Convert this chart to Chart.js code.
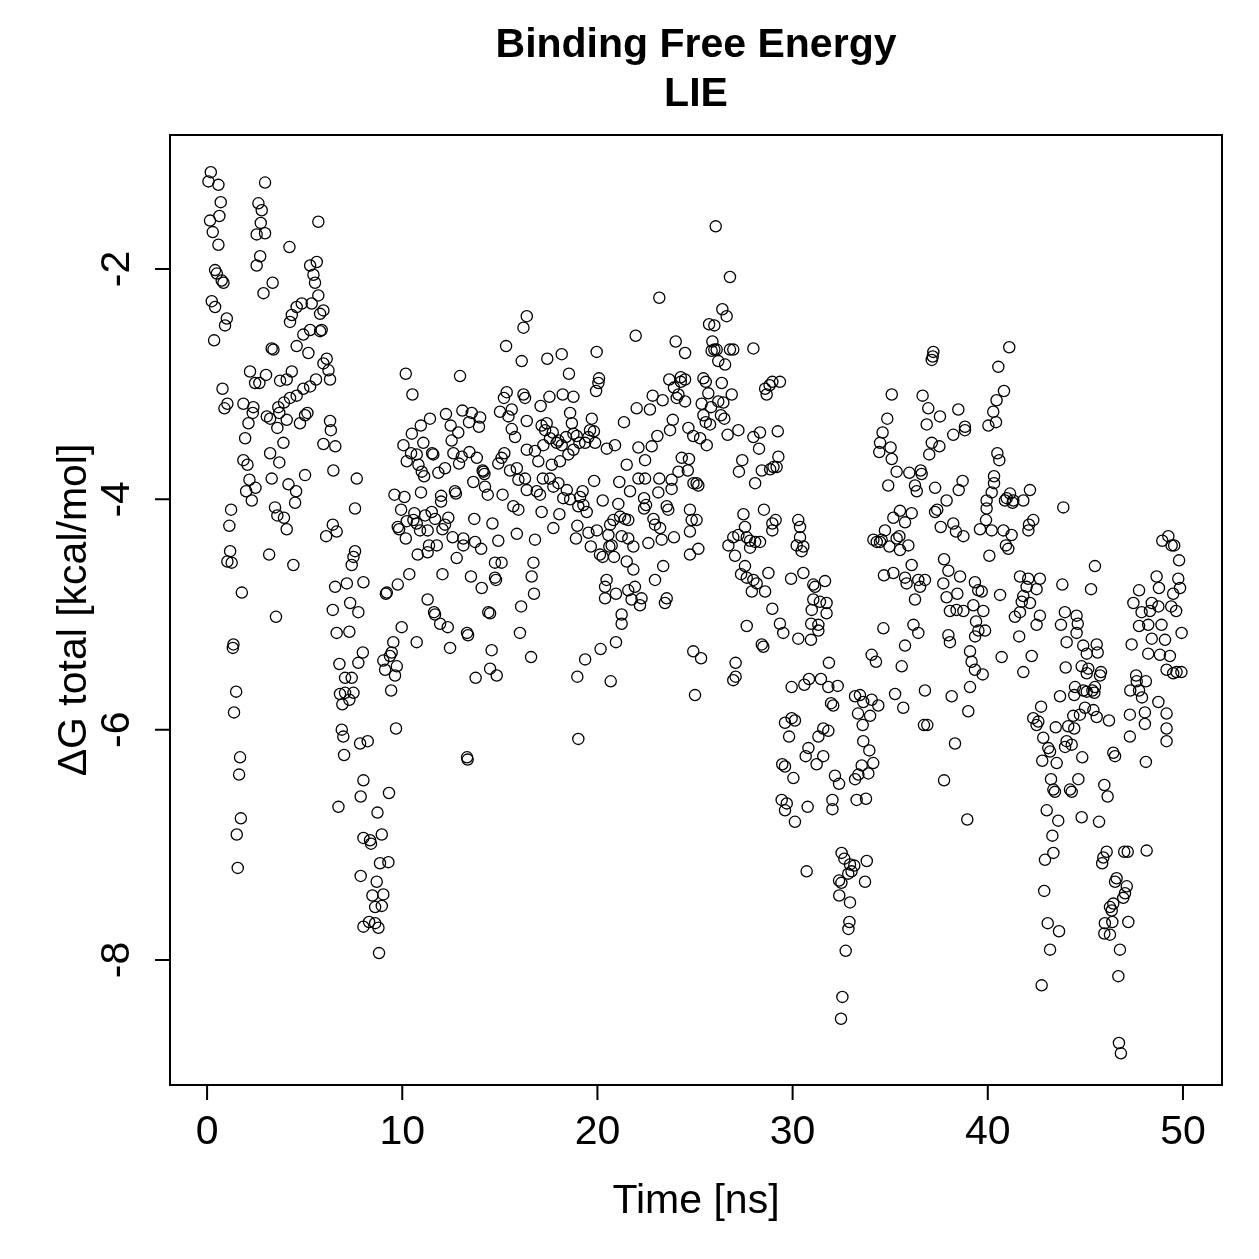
<!DOCTYPE html>
<html>
<head>
<meta charset="utf-8">
<script src="https://cdn.jsdelivr.net/npm/chart.js@4.4.1/dist/chart.umd.min.js"></script>
<style>
  html, body { margin: 0; padding: 0; background: #fff; }
  #wrap { width: 1259px; height: 1259px; }
</style>
</head>
<body>
<div id="wrap"><canvas id="lieChart" width="1259" height="1259"></canvas></div>
<script>
const chartTitle = ["Binding Free Energy", "LIE"];
const xLabel = "Time [ns]";
const yLabel = "\u0394G total [kcal/mol]";
const xTicks = [0, 10, 20, 30, 40, 50];
const yTicks = [-8, -6, -4, -2];

// [time ns, dG kcal/mol]
const block0to8 = [
  [0.19,-1.16],[0.07,-1.24],[0.58,-1.27],[2.97,-1.25],[0.70,-1.42],[0.63,-1.54],[0.15,-1.58],[0.29,-1.68],[0.58,-1.79],
  [2.63,-1.43],[2.80,-1.49],[2.75,-1.60],[2.54,-1.70],[2.97,-1.69],[5.70,-1.59],[4.22,-1.81],[2.72,-1.89],[2.54,-1.97],
  [3.36,-2.12],[2.89,-2.21],[0.41,-2.01],[0.50,-2.04],[0.75,-2.10],[0.84,-2.12],[5.28,-1.97],[5.62,-1.94],[5.45,-2.05],
  [5.53,-2.12],[5.70,-2.23],[5.36,-2.30],[5.96,-2.36],[5.79,-2.39],[4.85,-2.30],[4.59,-2.33],[4.34,-2.40],[4.25,-2.46],
  [5.87,-2.53],[5.79,-2.54],[5.28,-2.53],[4.93,-2.57],[4.59,-2.67],[5.19,-2.73],[0.24,-2.28],[0.41,-2.33],[1.01,-2.43],
  [0.92,-2.49],[0.36,-2.62],[3.31,-2.69],[3.40,-2.70],[6.13,-2.78],[5.96,-2.82],[6.22,-2.88],[6.30,-2.96],[5.58,-2.96],
  [5.28,-3.02],[4.93,-3.04],[4.59,-3.10],[4.25,-3.12],[3.94,-3.16],[3.65,-3.20],[4.34,-2.89],[4.08,-2.96],[3.74,-2.97],
  [2.20,-2.89],[2.46,-2.99],[2.68,-2.99],[3.02,-2.92],[0.79,-3.04],[1.04,-3.17],[0.89,-3.21],[1.86,-3.17],[2.37,-3.20],
  [2.34,-3.25],[3.06,-3.28],[3.23,-3.30],[3.70,-3.25],[4.08,-3.31],[4.76,-3.34],[5.02,-3.27],[5.14,-3.25],[3.60,-3.38],
  [2.12,-3.34],[1.95,-3.47],[3.91,-3.51],[6.30,-3.32],[6.34,-3.40],[5.96,-3.52],[6.57,-3.54],[3.23,-3.60],[3.70,-3.68],
  [1.86,-3.66],[2.07,-3.70],[2.17,-3.83],[2.48,-3.90],[2.00,-3.93],[2.29,-4.01],[3.31,-3.82],[4.17,-3.87],[4.56,-3.93],
  [4.51,-4.03],[5.02,-3.79],[6.47,-3.75],[7.67,-3.82],[1.23,-4.09],[1.14,-4.23],[3.48,-4.07],[3.60,-4.14],[3.94,-4.16],
  [4.08,-4.26],[7.58,-4.08],[6.44,-4.22],[6.64,-4.28],[6.10,-4.32],[1.18,-4.45],[1.04,-4.54],[1.26,-4.55],[3.18,-4.48],
  [4.42,-4.57],[7.58,-4.45],[7.50,-4.50],[7.41,-4.57],[1.78,-4.81],[6.56,-4.76],[7.16,-4.73],[8.01,-4.72],[6.44,-4.96],
  [7.33,-4.90],[7.75,-4.98],[3.53,-5.02],[6.64,-5.16],[7.29,-5.15],[1.35,-5.26],[1.32,-5.29],[7.98,-5.33],[6.78,-5.43],
  [7.75,-5.42],[7.07,-5.55],[7.41,-5.55],[1.49,-5.67],[6.81,-5.69],[7.07,-5.68],[7.50,-5.68],[7.29,-5.74],[6.93,-5.78],
  [1.38,-5.85],[6.90,-6.00],[6.98,-6.06],[7.84,-6.12],[7.02,-6.22],[1.69,-6.24],[1.64,-6.39],[8.01,-6.44],[7.87,-6.58],
  [6.73,-6.67],[1.73,-6.77],[1.52,-6.91],[8.01,-6.94],[7.87,-7.27],[1.57,-7.20],[8.01,-7.71]
];

const block8to16 = [
  [8.23,-6.10],[9.32,-6.55],[8.73,-6.72],[8.35,-6.96],[8.40,-6.99],[8.95,-6.91],[8.86,-7.16],[9.29,-7.15],[8.69,-7.32],
  [8.47,-7.44],[9.03,-7.43],[8.61,-7.54],[8.95,-7.53],[8.30,-7.67],[8.61,-7.68],[8.78,-7.72],[8.81,-7.94],[9.97,-5.11],
  [9.54,-5.24],[9.46,-5.33],[9.37,-5.36],[9.03,-5.40],[9.72,-5.45],[9.12,-5.48],[9.63,-5.53],[9.43,-5.66],[9.68,-5.99],
  [9.60,-3.96],[9.94,-4.09],[9.77,-4.24],[9.84,-4.26],[9.77,-4.74],[9.21,-4.81],[9.16,-4.82],
  [10.18,-2.91],[12.96,-2.93],[10.52,-3.09],[15.32,-2.67],[16.38,-2.41],[16.21,-2.51],[16.12,-2.80],[15.35,-3.07],
  [15.21,-3.12],[16.21,-3.09],[16.29,-3.12],[15.61,-3.22],[15.01,-3.24],[15.44,-3.28],[15.61,-3.39],[15.78,-3.46],
  [16.38,-3.32],[16.38,-3.57],[12.24,-3.26],[13.08,-3.23],[13.56,-3.25],[13.99,-3.29],[13.42,-3.33],[13.93,-3.37],
  [12.48,-3.36],[12.87,-3.42],[11.42,-3.30],[10.95,-3.36],[10.49,-3.43],[10.06,-3.53],[11.08,-3.51],[12.53,-3.49],
  [10.45,-3.60],[10.23,-3.67],[10.74,-3.61],[11.53,-3.60],[11.59,-3.61],[12.62,-3.60],[13.05,-3.63],[13.44,-3.59],
  [13.82,-3.64],[12.91,-3.69],[10.83,-3.70],[11.00,-3.76],[11.12,-3.80],[11.85,-3.77],[12.19,-3.73],[14.16,-3.76],
  [14.21,-3.78],[14.12,-3.75],[14.92,-3.69],[15.23,-3.60],[15.09,-3.64],[15.52,-3.75],[15.87,-3.73],[15.95,-3.83],
  [16.29,-3.82],[13.64,-3.85],[14.24,-3.89],[14.38,-3.96],[15.14,-3.96],[16.38,-3.92],[10.11,-3.98],[10.96,-3.94],
  [11.99,-3.97],[11.99,-4.02],[12.70,-3.93],[12.75,-3.95],[10.62,-4.12],[11.17,-4.14],[11.51,-4.11],[11.68,-4.17],
  [12.36,-4.16],[10.23,-4.19],[10.18,-4.34],[10.57,-4.18],[10.74,-4.21],[10.91,-4.27],[11.30,-4.27],[12.06,-4.26],
  [12.19,-4.22],[12.58,-4.33],[13.13,-4.34],[13.69,-4.17],[14.62,-4.21],[15.87,-4.30],[15.69,-4.06],[15.95,-4.09],
  [13.13,-4.40],[13.73,-4.37],[14.04,-4.43],[14.92,-4.36],[11.37,-4.40],[11.30,-4.46],[11.77,-4.40],[10.79,-4.48],
  [12.79,-4.51],[14.75,-4.55],[15.09,-4.55],[14.75,-4.68],[14.80,-4.70],[10.36,-4.65],[12.06,-4.65],[13.52,-4.67],
  [14.07,-4.77],[11.30,-4.87],[11.63,-4.98],[11.68,-5.00],[14.41,-4.98],[14.50,-4.99],[16.09,-4.93],
  [11.94,-5.08],[12.33,-5.11],[12.45,-5.29],[13.32,-5.16],[13.37,-5.18],[14.58,-5.31],[14.50,-5.47],[14.84,-5.53],
  [13.76,-5.55],[13.32,-6.24],[13.35,-6.26],[10.74,-5.24],[16.03,-5.16],[16.60,-5.37]
];

const block16to24 = [
  [23.17,-2.25],[21.96,-2.58],[24.01,-2.63],[19.96,-2.72],[18.17,-2.74],[17.43,-2.78],[18.54,-2.91],[20.08,-2.95],
  [20.05,-2.99],[19.93,-3.06],[23.68,-2.96],[24.27,-2.94],[24.27,-2.98],[23.92,-3.03],[24.15,-3.09],[24.06,-3.12],
  [17.54,-3.11],[18.22,-3.09],[18.77,-3.11],[17.09,-3.19],[18.60,-3.25],[18.69,-3.34],[17.14,-3.36],[17.40,-3.34],
  [17.32,-3.40],[17.71,-3.42],[17.57,-3.47],[18.00,-3.49],[17.91,-3.51],[18.17,-3.53],[18.39,-3.46],[18.77,-3.43],
  [18.94,-3.45],[19.08,-3.51],[19.71,-3.30],[19.62,-3.40],[19.82,-3.41],[19.54,-3.46],[19.88,-3.51],[19.37,-3.51],
  [22.01,-3.21],[22.69,-3.22],[22.83,-3.10],[23.34,-3.14],[21.36,-3.33],[23.86,-3.31],[23.72,-3.40],[23.07,-3.45],
  [22.78,-3.54],[22.10,-3.55],[22.44,-3.66],[20.90,-3.53],[20.48,-3.56],[21.50,-3.70],[24.32,-3.64],[24.15,-3.76],
  [16.80,-3.58],[16.97,-3.67],[17.23,-3.53],[17.66,-3.70],[18.08,-3.67],[18.51,-3.61],[18.77,-3.57],[17.20,-3.82],
  [17.57,-3.82],[16.89,-3.93],[17.06,-3.96],[17.74,-3.89],[18.00,-3.86],[18.43,-3.92],[18.25,-3.99],[18.60,-4.00],
  [19.24,-3.93],[19.11,-3.98],[19.28,-4.05],[19.45,-4.11],[19.02,-4.06],[19.83,-3.84],[20.27,-4.01],[21.12,-3.85],
  [21.67,-3.93],[22.10,-3.82],[22.44,-3.82],[21.07,-4.04],[22.39,-3.99],[22.49,-4.05],[22.39,-4.08],[23.17,-3.82],
  [23.80,-3.83],[23.80,-3.91],[23.12,-3.94],[23.55,-4.06],[23.63,-4.09],[17.14,-4.11],[18.05,-4.13],[17.74,-4.25],
  [18.97,-4.23],[18.90,-4.34],[19.54,-4.29],[19.66,-4.41],[19.97,-4.27],[20.27,-4.50],[20.13,-4.48],[20.65,-4.22],
  [20.82,-4.18],[21.16,-4.15],[21.41,-4.17],[21.58,-4.18],[20.56,-4.31],[20.73,-4.40],[20.61,-4.41],[20.85,-4.50],
  [21.50,-4.54],[21.84,-4.61],[21.24,-4.32],[21.58,-4.34],[21.84,-4.41],[22.61,-4.38],[22.87,-4.17],[22.95,-4.22],
  [23.21,-4.25],[23.29,-4.35],[23.92,-4.33],[23.37,-4.58],[22.95,-4.70],[16.72,-4.55],[16.63,-4.67],[16.75,-4.82],
  [16.80,-4.35],[20.47,-4.70],[20.39,-4.76],[20.39,-4.86],[20.95,-4.82],[21.58,-4.79],[21.92,-4.76],[21.75,-4.87],
  [22.26,-4.86],[22.18,-4.92],[23.55,-4.86],[23.46,-4.90],[21.24,-5.00],[18.97,-5.54],[19.37,-5.39],[20.16,-5.30],
  [20.95,-5.24],[21.24,-5.08],[20.68,-5.58],[19.02,-6.08]
];

const block24to33 = [
  [26.06,-1.63],[26.79,-2.07],[26.40,-2.35],[26.62,-2.41],[25.72,-2.48],[25.99,-2.49],[25.89,-2.63],[25.85,-2.71],
  [26.11,-2.70],[25.99,-2.70],[26.19,-2.80],[26.54,-2.83],[26.79,-2.70],[26.96,-2.70],[27.99,-2.69],[24.49,-2.73],
  [25.43,-2.95],[25.55,-2.98],[26.37,-2.99],[26.88,-3.09],[25.68,-3.08],[25.34,-3.17],[25.82,-3.20],[26.19,-3.15],
  [26.45,-3.16],[25.43,-3.27],[25.55,-3.33],[25.77,-3.35],[26.33,-3.27],[26.50,-3.30],[24.49,-2.96],[24.49,-3.15],
  [24.66,-3.38],[24.91,-3.45],[25.26,-3.47],[25.60,-3.53],[26.67,-3.44],[27.22,-3.40],[27.99,-3.46],[28.33,-3.42],
  [28.28,-3.56],[29.24,-3.41],[28.59,-3.04],[28.82,-3.01],[28.96,-2.98],[29.35,-2.98],[28.67,-3.09],[24.69,-3.65],
  [24.63,-3.75],[27.42,-3.66],[27.25,-3.76],[28.42,-3.75],[28.85,-3.74],[29.02,-3.72],[29.27,-3.63],[29.18,-3.72],
  [28.08,-3.86],[24.92,-3.86],[25.08,-3.86],[25.17,-3.88],[24.74,-4.09],[24.83,-4.18],[25.08,-4.18],[24.74,-4.28],
  [24.74,-4.48],[25.17,-4.43],[27.48,-4.13],[27.56,-4.24],[26.96,-4.33],[27.22,-4.31],[27.65,-4.33],[27.82,-4.36],
  [28.08,-4.37],[28.33,-4.37],[26.71,-4.40],[27.05,-4.49],[27.82,-4.42],[28.53,-4.09],[28.96,-4.21],[29.13,-4.18],
  [28.96,-4.27],[30.29,-4.18],[30.38,-4.24],[30.38,-4.33],[30.21,-4.40],[30.55,-4.41],[30.46,-4.45],[27.56,-4.58],
  [27.36,-4.65],[27.65,-4.68],[27.99,-4.70],[28.16,-4.73],[27.91,-4.80],[28.59,-4.80],[28.76,-4.64],[29.92,-4.69],
  [30.55,-4.64],[31.06,-4.74],[31.15,-4.76],[31.66,-4.71],[31.06,-4.87],[31.40,-4.89],[31.74,-4.90],[31.74,-4.99],
  [30.98,-4.96],[28.96,-4.95],[29.35,-5.08],[29.52,-5.16],[30.29,-5.21],[30.95,-5.08],[31.32,-5.09],[31.32,-5.14],
  [30.94,-5.22],[27.65,-5.10],[28.42,-5.26],[28.50,-5.28],[24.91,-5.32],[25.31,-5.38],[27.08,-5.42],[27.08,-5.54],
  [26.96,-5.57],[25.00,-5.70],[31.86,-5.42],[29.95,-5.63],[30.60,-5.61],[30.84,-5.56],[31.45,-5.56],[31.83,-5.63],
  [32.31,-5.62],[31.97,-5.77],[32.08,-5.79],[29.95,-5.90],[30.12,-5.92],[29.61,-5.94],[29.82,-6.06],[31.57,-5.99],
  [31.32,-6.06],[31.83,-6.01],[30.81,-6.16],[30.67,-6.23],[31.23,-6.30],[31.57,-6.23],[29.47,-6.30],[29.61,-6.32],
  [30.04,-6.42],[32.17,-6.40],[32.38,-6.47],[29.44,-6.61],[29.70,-6.64],[29.61,-6.70],[30.12,-6.80],[30.77,-6.67],
  [32.04,-6.61],[32.04,-6.69],[30.72,-7.23],[32.51,-7.07],[32.65,-7.12],[32.94,-7.17],[33.02,-7.23],[32.85,-7.25],
  [33.16,-7.18],[32.38,-7.31],[32.50,-7.33],[32.39,-7.44],[32.94,-7.50],[32.91,-7.67],[32.86,-7.73],[32.72,-7.92],
  [32.55,-8.32],[32.48,-8.51]
];

const block33to41 = [
  [37.21,-2.72],[37.13,-2.79],[37.18,-2.76],[41.10,-2.68],[40.54,-2.85],[40.83,-3.06],[40.45,-3.14],[40.28,-3.24],
  [40.42,-3.33],[40.03,-3.36],[35.08,-3.09],[36.66,-3.10],[36.95,-3.21],[37.55,-3.28],[36.87,-3.35],[38.49,-3.22],
  [38.83,-3.37],[38.83,-3.40],[38.23,-3.44],[34.85,-3.30],[34.61,-3.42],[34.48,-3.51],[34.44,-3.59],[35.02,-3.55],
  [35.08,-3.65],[37.13,-3.51],[37.52,-3.54],[37.00,-3.61],[40.49,-3.60],[40.59,-3.66],[35.33,-3.76],[35.98,-3.77],
  [36.56,-3.75],[36.61,-3.78],[34.90,-3.88],[36.27,-3.88],[36.36,-3.93],[37.30,-3.90],[38.71,-3.84],[38.51,-3.92],
  [40.32,-3.80],[40.32,-3.86],[40.20,-3.94],[41.14,-3.95],[40.97,-3.99],[41.31,-4.01],[40.88,-4.01],[41.27,-4.03],
  [39.94,-4.01],[39.94,-4.08],[37.89,-4.01],[37.41,-4.09],[37.30,-4.11],[35.50,-4.10],[36.10,-4.12],[35.16,-4.16],
  [35.76,-4.20],[34.73,-4.27],[35.47,-4.32],[35.33,-4.34],[35.93,-4.40],[34.31,-4.37],[34.14,-4.35],[34.48,-4.37],
  [34.96,-4.41],[35.50,-4.44],[34.56,-4.35],[37.59,-4.24],[38.23,-4.21],[38.37,-4.28],[38.75,-4.32],[39.60,-4.26],
  [39.91,-4.18],[40.20,-4.27],[40.80,-4.27],[41.22,-4.31],[40.93,-4.40],[41.05,-4.43],[40.08,-4.49],[37.76,-4.52],
  [37.98,-4.62],[38.58,-4.67],[37.72,-4.73],[37.89,-4.85],[38.44,-4.82],[39.34,-4.72],[39.51,-4.79],[39.69,-4.80],
  [34.68,-4.66],[35.16,-4.64],[35.76,-4.68],[36.10,-4.57],[35.84,-4.73],[36.44,-4.70],[36.78,-4.70],[36.53,-4.76],
  [36.27,-4.87],[40.63,-4.83],[38.06,-4.97],[38.40,-4.96],[38.75,-4.97],[39.26,-4.92],[39.77,-4.97],
  [34.65,-5.12],[36.19,-5.09],[36.44,-5.16],[35.76,-5.27],[35.59,-5.45],[34.05,-5.35],[34.27,-5.41],[37.98,-5.18],
  [38.06,-5.24],[39.09,-5.32],[39.17,-5.41],[39.34,-5.48],[39.74,-5.52],[39.09,-5.63],[39.00,-5.84],[40.71,-5.37],
  [39.40,-5.06],[39.52,-5.14],[39.86,-5.14],[39.35,-5.19],[41.39,-5.02],[41.61,-5.19],[41.82,-5.50],[38.15,-5.71],
  [36.78,-5.66],[35.25,-5.69],[35.67,-5.81],[36.73,-5.96],[36.90,-5.96],[38.32,-6.12],[37.76,-6.44],[38.95,-6.78],
  [33.20,-5.71],[33.45,-5.70],[33.62,-5.76],[34.05,-5.74],[34.39,-5.79],[33.35,-5.86],[33.97,-5.88],[33.59,-5.96],
  [33.62,-6.10],[33.93,-6.18],[34.13,-6.29],[33.54,-6.31],[33.88,-6.38],[33.37,-6.39],[33.20,-6.43],[33.28,-6.61],
  [33.76,-6.60],[33.80,-7.14],[33.71,-7.32]
];

const block41to50 = [
  [42.16,-3.92],[41.82,-4.01],[43.87,-4.07],[42.33,-4.18],[42.11,-4.22],[42.08,-4.27],[49.25,-4.32],[48.94,-4.36],
  [49.42,-4.40],[49.55,-4.40],[49.80,-4.53],[45.49,-4.58],[48.65,-4.67],[49.76,-4.69],[41.65,-4.67],[42.07,-4.69],
  [42.67,-4.69],[41.99,-4.76],[42.50,-4.78],[41.82,-4.84],[43.82,-4.74],[45.29,-4.78],[47.75,-4.79],[48.77,-4.77],
  [49.85,-4.77],[49.50,-4.82],[47.46,-4.90],[47.88,-4.98],[48.31,-4.97],[48.40,-4.90],[48.74,-4.93],[49.40,-4.93],
  [49.65,-4.97],[42.16,-4.90],[41.74,-4.89],[41.65,-4.98],[43.95,-4.98],[42.67,-5.01],[44.55,-5.01],
  [42.50,-5.09],[43.75,-5.09],[44.61,-5.08],[44.55,-5.16],[44.04,-5.24],[44.89,-5.27],[45.07,-5.34],[45.58,-5.26],
  [45.63,-5.33],[42.25,-5.36],[43.99,-5.46],[44.81,-5.45],[45.07,-5.51],[45.15,-5.47],[45.80,-5.50],[45.75,-5.53],
  [43.70,-5.71],[44.47,-5.63],[44.43,-5.70],[44.89,-5.66],[45.07,-5.67],[45.36,-5.66],[45.49,-5.63],[45.46,-5.68],
  [42.73,-5.80],[42.33,-5.90],[42.50,-5.96],[42.59,-5.93],[43.48,-5.98],[42.84,-6.07],[43.10,-6.16],[43.19,-6.19],
  [42.79,-6.27],[43.53,-6.29],[44.38,-5.88],[44.72,-5.87],[44.98,-5.81],[45.41,-5.83],[45.58,-5.89],[46.21,-5.92],
  [44.12,-5.97],[44.43,-5.99],[44.04,-6.10],[44.30,-6.13],[43.96,-6.15],[44.84,-6.24],[46.43,-6.20],[46.52,-6.23],
  [48.10,-6.28],[43.24,-6.43],[43.44,-6.54],[43.36,-6.52],[44.21,-6.52],[44.30,-6.54],[44.64,-6.43],[45.97,-6.48],
  [46.14,-6.58],[43.02,-6.70],[43.61,-6.79],[44.81,-6.76],[45.70,-6.80],[43.31,-6.92],[43.36,-7.07],[42.93,-7.13],
  [46.09,-7.06],[45.92,-7.11],[45.86,-7.16],[46.99,-7.06],[47.17,-7.06],[48.14,-7.05],[42.89,-7.40],[46.60,-7.29],
  [46.52,-7.32],[47.12,-7.36],[47.03,-7.42],[46.94,-7.46],[46.43,-7.51],[46.26,-7.54],[46.35,-7.57],[43.07,-7.68],
  [43.65,-7.75],[46.00,-7.68],[46.38,-7.67],[47.20,-7.67],[45.97,-7.77],[46.26,-7.78],[43.19,-7.91],[46.77,-7.91],
  [42.76,-8.22],[46.69,-8.14],[46.72,-8.72],[46.82,-8.81],
  [47.75,-5.10],[48.22,-5.09],[48.90,-5.09],[48.40,-5.21],[49.08,-5.22],[48.82,-5.35],[48.22,-5.34],[49.33,-5.36],
  [49.16,-5.48],[49.50,-5.51],[49.67,-5.50],[49.92,-5.50],[49.93,-5.16],[47.37,-5.26],[47.60,-5.53],[47.63,-5.58],
  [48.10,-5.58],[47.30,-5.66],[47.75,-5.66],[47.90,-5.72],[47.28,-5.87],[48.05,-5.85],[48.05,-5.95],[47.28,-6.06],
  [48.74,-5.76],[49.16,-5.86],[49.16,-5.99],[49.16,-6.10]
];

const lieBlocks = [block0to8, block8to16, block16to24, block24to33, block33to41, block41to50];
const liePoints = lieBlocks.flat().map(p => ({ x: p[0], y: p[1] }));

const FONT = '"Liberation Sans", Arial, Helvetica, sans-serif';

// R-like frame: box, outward ticks, rotated y labels
const rStyleAxes = {
  id: "rStyleAxes",
  afterDraw(chart) {
    const { ctx, chartArea: area } = chart;
    const xs = chart.scales.x;
    const ys = chart.scales.y;
    const tickLen = 15;
    ctx.save();
    ctx.strokeStyle = "#000";
    ctx.fillStyle = "#000";
    ctx.lineWidth = 2;
    ctx.strokeRect(area.left, area.top, area.right - area.left, area.bottom - area.top);

    ctx.beginPath();
    xTicks.forEach(v => {
      const px = xs.getPixelForValue(v);
      ctx.moveTo(px, area.bottom);
      ctx.lineTo(px, area.bottom + tickLen);
    });
    yTicks.forEach(v => {
      const py = ys.getPixelForValue(v);
      ctx.moveTo(area.left, py);
      ctx.lineTo(area.left - tickLen, py);
    });
    ctx.stroke();

    ctx.font = "41px " + FONT;
    ctx.textAlign = "center";
    ctx.textBaseline = "middle";
    xTicks.forEach(v => {
      ctx.fillText(String(v), xs.getPixelForValue(v), 1133);
    });
    yTicks.forEach(v => {
      const py = ys.getPixelForValue(v);
      ctx.save();
      ctx.translate(118, py);
      ctx.rotate(-Math.PI / 2);
      ctx.fillText(String(v), 0, 0);
      ctx.restore();
    });

    const midX = (area.left + area.right) / 2;
    const midY = (area.top + area.bottom) / 2;
    ctx.fillText(xLabel, midX, 1202);
    ctx.save();
    ctx.translate(75, midY);
    ctx.rotate(-Math.PI / 2);
    ctx.fillText(yLabel, 0, 0);
    ctx.restore();

    ctx.font = "bold 41px " + FONT;
    ctx.fillText(chartTitle[0], midX, 46);
    ctx.fillText(chartTitle[1], midX, 95);
    ctx.restore();
  }
};

new Chart(document.getElementById("lieChart"), {
  type: "scatter",
  data: {
    datasets: [{
      label: "LIE",
      data: liePoints,
      pointStyle: "circle",
      pointRadius: 5.6,
      pointBorderWidth: 1.3,
      pointBorderColor: "#000",
      pointBackgroundColor: "rgba(0,0,0,0)",
      showLine: false
    }]
  },
  options: {
    responsive: false,
    devicePixelRatio: 1,
    animation: false,
    events: [],
    layout: { padding: { left: 170, top: 135, right: 37, bottom: 174 } },
    plugins: { legend: { display: false }, tooltip: { enabled: false }, title: { display: false } },
    scales: {
      x: { type: "linear", min: -1.9, max: 52.0, display: false },
      y: { type: "linear", min: -9.085, max: -0.837, display: false }
    }
  },
  plugins: [rStyleAxes]
});
</script>
</body>
</html>
